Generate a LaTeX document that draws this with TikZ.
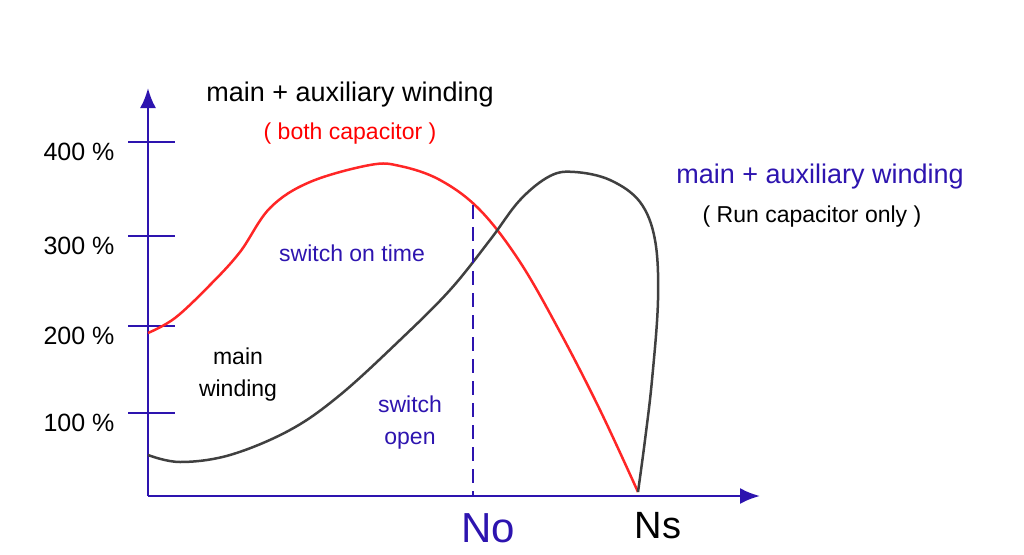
\documentclass[tikz,border=0pt]{standalone}
\usepackage{fontspec}
\setmainfont{Liberation Sans}
\usetikzlibrary{arrows.meta}
\definecolor{ink}{RGB}{45,20,175}
\tikzstyle{axis} = [line width=2.5pt,ink,-{Latex[length=20pt,width=16pt]}]
\tikzstyle{lbl} = [font=\fontsize{23}{32}\selectfont,align=center]
\begin{document}
\begin{tikzpicture}[x=1pt,y=-1pt]
\useasboundingbox (0,0) rectangle (1024,554);

% Axes
\draw[axis] (148,496) -- (148,88);
\draw[axis] (148,496) -- (760,496);

% Ticks and percent labels
\foreach \yy/\pc in {142/400,236/300,326/200,413/100}{
  \draw[ink,line width=2pt] (128,\yy) -- (175,\yy);
  \node[lbl,anchor=east,font=\fontsize{25}{28}\selectfont] (p\pc) at (118,\yy+10) {\pc\ \%};
}

% Curves
\draw[red!85!white,line width=2.5pt] plot[smooth,tension=0.6] coordinates {
  (148,333) (175,318) (210,285) (240,252) (270,208) (310,182) (370,165)
  (400,166) (440,180) (480,210) (520,262) (560,332) (600,410) (638,492)};
\draw[black!75,line width=2.5pt] plot[smooth,tension=0.6] coordinates {
  (148,455) (180,462) (230,455) (290,430) (340,395) (400,340) (450,290)
  (490,240) (520,200) (550,176) (575,172) (610,180) (640,202) (655,240)
  (658,300) (652,380) (645,440) (638,492)};

% Switch line
\draw[ink,line width=2pt,dash pattern=on 14pt off 8pt] (473,205) -- (473,496);

% Labels
\node[lbl,font=\fontsize{27}{30}\selectfont] (mainaux) at (350,95) {main + auxiliary winding};
\node[lbl,red] (both) at (350,134) {( both capacitor )};
\node[lbl,ink,font=\fontsize{27}{30}\selectfont] (mainrun) at (820,177) {main + auxiliary winding};
\node[lbl] (run) at (812,217) {( Run capacitor only )};
\node[lbl,ink] (swon) at (352,253) {switch on time};
\node[lbl] (mainw) at (238,375) {main\\winding};
\node[lbl,ink] (swop) at (410,423) {switch\\open};
\node[lbl,ink,font=\fontsize{42}{44}\selectfont] (no) at (488,528) {No};
\node[lbl,font=\fontsize{38}{40}\selectfont] (ns) at (658,526) {Ns};
\end{tikzpicture}
\end{document}
